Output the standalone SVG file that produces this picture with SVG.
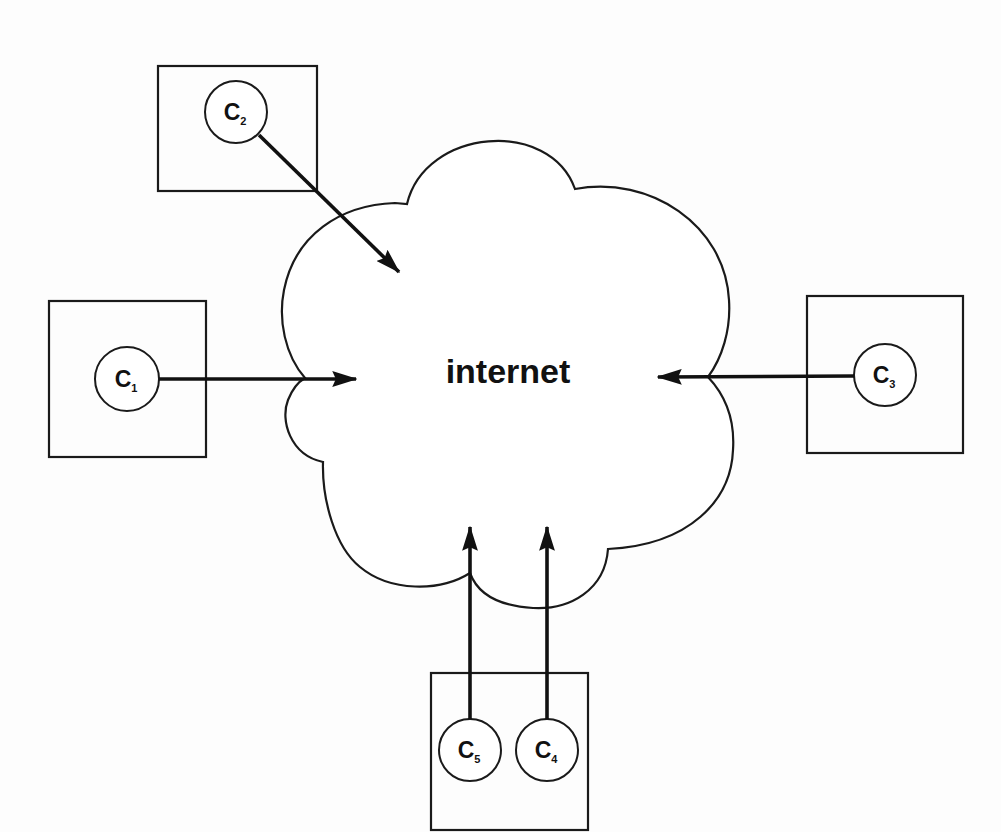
<svg xmlns="http://www.w3.org/2000/svg" width="1001" height="832" viewBox="0 0 1001 832">
<style>
.box{fill:none;stroke:#1a1a1a;stroke-width:2.2}
.circ{fill:#fff;stroke:#1a1a1a;stroke-width:2}
.lbl{font-family:"Liberation Sans",Arial,sans-serif;font-weight:bold;font-size:23px;fill:#111;text-anchor:middle}
.sub{font-size:11px}
.cloud{fill:#fff;stroke:#1a1a1a;stroke-width:2.2;stroke-linejoin:miter}
.arr{fill:none;stroke:#111;stroke-width:3.6;marker-end:url(#ah)}
</style>
<defs>
<marker id="ah" markerWidth="7" markerHeight="4.4" refX="6.6" refY="2.2" orient="auto" markerUnits="strokeWidth">
<path d="M0,0 L7,2.2 L0,4.4 L1,2.2 Z" fill="#111"/>
</marker>
</defs>
<rect width="1001" height="832" fill="#fdfdfd"/>
<g id="cloud">
<path class="cloud" d="M407,204 C425,128 550,118 575,189 C650,175 725,225 729,300 C731,330 722,358 708,377 C725,395 735,420 733,450 C731,500 690,545 608,549 C605,590 570,610 533,608 C500,606 478,595 470,573 C440,592 390,592 360,567 C335,547 322,500 323,462 C290,455 280,420 288,400 C292,390 298,382 305,378 C285,355 278,320 284,290 C295,235 340,205 395,203 Z"/>
<text x="508" y="383" font-family="'Liberation Sans',Arial,sans-serif" font-weight="bold" font-size="34" fill="#111" text-anchor="middle">internet</text>
</g>
<g id="node-c2">
<rect class="box" x="158" y="66" width="159" height="125"/>
<circle class="circ" cx="236" cy="112" r="31"/>
<text class="lbl" x="235" y="120">C<tspan class="sub" dy="5">2</tspan></text>
</g>
<g id="node-c1">
<rect class="box" x="49" y="301" width="157" height="156"/>
<circle class="circ" cx="127" cy="379" r="32"/>
<text class="lbl" x="126" y="387">C<tspan class="sub" dy="5">1</tspan></text>
</g>
<g id="node-c3">
<rect class="box" x="807" y="296" width="156" height="157"/>
<circle class="circ" cx="885" cy="375" r="31"/>
<text class="lbl" x="884" y="383">C<tspan class="sub" dy="5">3</tspan></text>
</g>
<g id="node-c45">
<rect class="box" x="431" y="673" width="157" height="157"/>
<circle class="circ" cx="470" cy="750" r="31"/>
<text class="lbl" x="469" y="758">C<tspan class="sub" dy="5">5</tspan></text>
<circle class="circ" cx="547" cy="750" r="31"/>
<text class="lbl" x="546" y="758">C<tspan class="sub" dy="5">4</tspan></text>
</g>
<g id="connectors">
<line class="arr" x1="259" y1="135" x2="399" y2="272"/>
<line class="arr" x1="159" y1="379" x2="356" y2="379"/>
<line class="arr" x1="854" y1="376" x2="658" y2="377"/>
<line class="arr" x1="470" y1="719" x2="470" y2="527"/>
<line class="arr" x1="547" y1="719" x2="547" y2="527"/>
</g>
</svg>
